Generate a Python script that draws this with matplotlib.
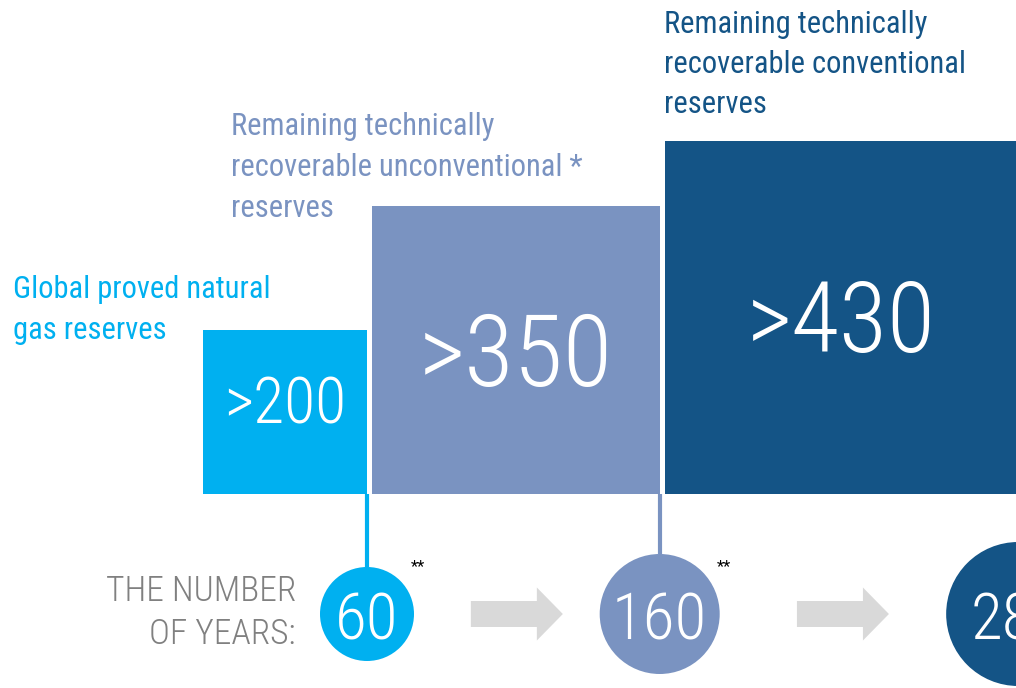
import matplotlib
matplotlib.use("Agg")
import matplotlib.pyplot as plt
from matplotlib import font_manager
from matplotlib.patches import Rectangle, Circle, Polygon

# data
reserve_values = [200, 350, 430]
reserve_text = [">200", ">350", ">430"]
reserve_labels = [
    ["Global proved natural", "gas reserves"],
    ["Remaining technically", "recoverable unconventional *", "reserves"],
    ["Remaining technically", "recoverable conventional", "reserves"],
]
years_text = ["60", "160", "280"]
years_note = ["**", "**", ""]
years_title = ["THE NUMBER", "OF YEARS:"]

colors = ["#00B0F0", "#7A93C1", "#145486"]
GRAY_TXT = "#808080"
ARROW = "#D9D9D9"

names = {f.name for f in font_manager.fontManager.ttflist}
FONT = "DejaVu Sans"
for cand in ["Roboto Condensed", "Archivo Narrow", "Asap Condensed", "Barlow Condensed"]:
    if cand in names:
        FONT = cand
        break
plt.rcParams["font.family"] = [FONT, "DejaVu Sans"]

W, H = 1016, 688
fig = plt.figure(figsize=(W / 100, H / 100), dpi=100)
ax = fig.add_axes([0, 0, 1, 1])
ax.set_xlim(0, W)
ax.set_ylim(H, 0)
ax.axis("off")

# layout
scale = 0.822
bottom = 494
gap = 5
first_right = 367
label_lefts = [13, 231, 664]
label_base = [298, 135, 33]
label_step = [41, 41, 40]
label_size = 22
value_size = [46, 73, 71]
value_shift = [-11, 0, 0]
circ_y = 614
radii = [47, 60, 72]
num_size = 47

sides = [v * scale for v in reserve_values]
lefts = []
x = first_right - sides[0]
for s in sides:
    lefts.append(x)
    x += s + gap
rights = [l + s for l, s in zip(lefts, sides)]

for i, (l, s) in enumerate(zip(lefts, sides)):
    ax.add_patch(Rectangle((l, bottom - s), s, s, color=colors[i], lw=0, zorder=2))
    digit_h = value_size[i] / 0.72 * 0.711
    ax.text(l + s / 2, bottom - s / 2 + digit_h / 2 + value_shift[i], reserve_text[i],
            color="white", fontsize=value_size[i], fontweight="light",
            ha="center", va="baseline", zorder=4)
    for j, line in enumerate(reserve_labels[i]):
        ax.text(label_lefts[i], label_base[i] + j * label_step[i], line,
                color=colors[i], fontsize=label_size, ha="left", va="baseline")

# circles with connectors
for i in range(3):
    cx = rights[i]
    r = radii[i]
    if i < 2:
        ax.plot([cx, cx], [bottom, circ_y - r], color=colors[i], lw=3, zorder=1,
                solid_capstyle="butt")
    ax.add_patch(Circle((cx, circ_y), r, color=colors[i], lw=0, zorder=3))
    ax.text(cx, circ_y + 26, years_text[i], color="white", fontsize=num_size,
            fontweight="light", ha="center", va="baseline", zorder=4)
    if years_note[i]:
        ax.text(cx + r + 4, circ_y - 47, years_note[i], color="black",
                fontsize=12, ha="center", va="center")

# arrows between circles
for i in range(2):
    gl = rights[i] + radii[i]
    gr = rights[i + 1] - radii[i + 1]
    mid = (gl + gr) / 2 + 10
    x0, x1 = mid - 46, mid + 46
    xh = x0 + 66
    pts = [(x0, circ_y - 13), (xh, circ_y - 13), (xh, circ_y - 26.5), (x1, circ_y),
           (xh, circ_y + 26.5), (xh, circ_y + 13), (x0, circ_y + 13)]
    ax.add_patch(Polygon(pts, closed=True, color=ARROW, lw=0, zorder=2))

for j, line in enumerate(years_title):
    ax.text(296, 601 + j * 43, line, color=GRAY_TXT, fontsize=25.5,
            fontweight="light", ha="right", va="baseline")

fig.savefig("out.png", dpi=100)
